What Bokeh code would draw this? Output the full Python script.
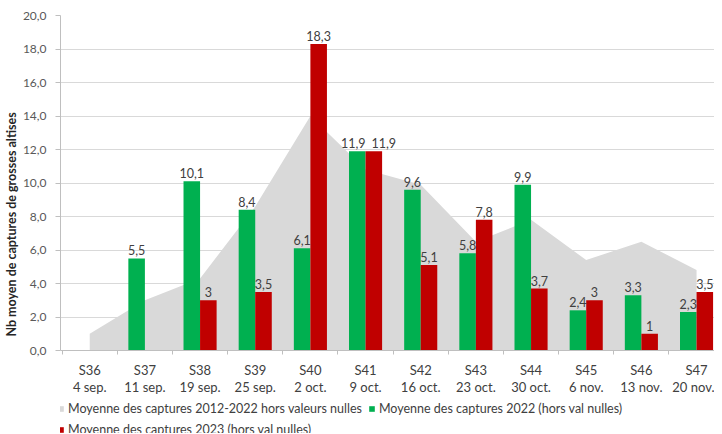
import numpy as np
from bokeh.plotting import figure
from bokeh.models import (Range1d, FixedTicker, LinearAxis, Legend, LegendItem,
                          ColumnDataSource, CustomJSTickFormatter, LabelSet)
from bokeh.transform import dodge
from bokeh.core.properties import value
from bokeh.embed import file_html
from bokeh.resources import INLINE

# ---- data ----
weeks = ["S36", "S37", "S38", "S39", "S40", "S41", "S42", "S43", "S44", "S45", "S46", "S47"]
dates = ["4 sep.", "11 sep.", "19 sep.", "25 sep.", "2 oct.", "9 oct.", "16 oct.",
         "23 oct.", "30 oct.", "6 nov.", "13 nov.", "20 nov."]
mean_2012_2022 = [1.0, 3.0, 4.3, 8.6, 14.0, 10.8, 9.9, 6.5, 7.8, 5.4, 6.5, 4.8]
captures_2022 = [None, 5.5, 10.1, 8.4, 6.1, 11.9, 9.6, 5.8, 9.9, 2.4, 3.3, 2.3]
captures_2023 = [None, None, 3, 3.5, 18.3, 11.9, 5.1, 7.8, 3.7, 3, 1, 3.5]
y_ticks = [0, 2, 4, 6, 8, 10, 12, 14, 16, 18, 20]
legend_labels = ["Moyenne des captures 2012-2022 hors valeurs nulles",
                 "Moyenne des captures 2022 (hors val nulles)",
                 "Moyenne des captures 2023 (hors val nulles)"]

# label nudges (screen px) for the two overlapping "11,9" data labels
nudge_2022 = {"S41": -4}
nudge_2023 = {"S41": 10}

FONT = "Lato"
GREY = "#D9D9D9"
GREEN = "#00B050"
RED = "#C00000"
TXT = "#404040"

n = len(weeks)
centers = [i + 0.5 for i in range(n)]
bounds = [float(i) for i in range(n + 1)]


def fmt(v):
    return ("%g" % v).replace(".", ",")


def series_source(vals, nudge):
    xs, ys, ls, dx = [], [], [], []
    for w, c, v in zip(weeks, centers, vals):
        if v is None:
            continue
        xs.append(c)
        ys.append(v)
        ls.append(fmt(v))
        dx.append(nudge.get(w, 0))
    return ColumnDataSource(dict(x=xs, y=ys, label=ls, dx=dx))


H = 433
TOP = 15
AXIS_Y = 350          # canvas row of y = 0
band_px = 55.67
frame_w = 660
x0 = -0.03
px_per_unit = (AXIS_Y - TOP) / 20.0
y_start = -(H - AXIS_Y) / px_per_unit

p = figure(width=714, height=H, output_backend="svg", toolbar_location=None,
           x_range=Range1d(x0, x0 + frame_w / band_px), y_range=Range1d(y_start, 20),
           min_border_left=54, min_border_right=0, min_border_top=TOP, min_border_bottom=0)
p.outline_line_color = None
p.background_fill_color = "white"
p.border_fill_color = "white"

# area
area = p.varea(x=centers, y1=[0] * n, y2=mean_2012_2022, fill_color=GREY)

# bars
s22 = series_source(captures_2022, nudge_2022)
s23 = series_source(captures_2023, nudge_2023)
bw = 0.3
b22 = p.vbar(x=dodge("x", -bw / 2), top="y", width=bw, source=s22,
             fill_color=GREEN, line_color=None)
b23 = p.vbar(x=dodge("x", bw / 2), top="y", width=bw, source=s23,
             fill_color=RED, line_color=None)

for src, off in ((s22, -bw / 2), (s23, bw / 2)):
    p.add_layout(LabelSet(x=dodge("x", off), y="y", text="label", source=src,
                          x_offset="dx", text_align="center", text_baseline="bottom",
                          y_offset=3, text_font=value(FONT), text_font_size="12.5px",
                          text_color=TXT))

# y axis
ya = p.yaxis[0]
ya.ticker = FixedTicker(ticks=y_ticks)
ya.bounds = (0, 20)
ya.formatter = CustomJSTickFormatter(code="return tick.toFixed(1).replace('.', ',');")
ya.axis_line_color = "#BFBFBF"
ya.major_tick_line_color = "#BFBFBF"
ya.major_tick_out = 5
ya.major_tick_in = 0
ya.minor_tick_line_color = None
ya.minor_tick_out = 0
ya.major_label_standoff = 9
ya.major_label_text_font = FONT
ya.major_label_text_font_size = "12px"
ya.major_label_text_color = "#595959"
ya.axis_label = "Nb moyen de captures de grosses altises"
ya.axis_label_text_font = FONT
ya.axis_label_text_font_style = "bold"
ya.axis_label_text_font_size = "12.5px"
ya.axis_label_text_color = "#262626"
ya.axis_label_standoff = 1

p.ygrid.ticker = FixedTicker(ticks=y_ticks)
p.ygrid.grid_line_color = GREY
p.xgrid.visible = False

# x axes (both pinned at y = 0): weeks, then dates underneath
xa = p.xaxis[0]
xa.fixed_location = 0
xa.ticker = FixedTicker(ticks=centers, minor_ticks=bounds)
xa.formatter = CustomJSTickFormatter(args=dict(labels=weeks),
                                     code="return labels[Math.floor(tick)] || '';")
xa.axis_line_color = "#BFBFBF"
xa.major_tick_line_color = None
xa.major_tick_out = 0
xa.major_tick_in = 0
xa.minor_tick_line_color = "#BFBFBF"
xa.minor_tick_out = 4
xa.minor_tick_in = 0
xa.major_label_standoff = 7
xa.major_label_text_font = FONT
xa.major_label_text_font_size = "13px"
xa.major_label_text_color = "#404040"

xb = LinearAxis(fixed_location=0, ticker=FixedTicker(ticks=centers),
                formatter=CustomJSTickFormatter(args=dict(labels=dates),
                                                code="return labels[Math.floor(tick)] || '';"))
xb.axis_line_color = None
xb.major_tick_line_color = None
xb.minor_tick_line_color = None
xb.major_tick_out = 0
xb.major_tick_in = 0
xb.minor_tick_out = 0
xb.major_label_standoff = 28
xb.major_label_text_font = FONT
xb.major_label_text_font_size = "13px"
xb.major_label_text_color = "#404040"
p.add_layout(xb, "below")

legend = Legend(items=[LegendItem(label=legend_labels[0], renderers=[area]),
                       LegendItem(label=legend_labels[1], renderers=[b22]),
                       LegendItem(label=legend_labels[2], renderers=[b23])],
                location=(-3, -4), orientation="horizontal", ncols=2,
                padding=0, margin=0, spacing=6, label_standoff=4,
                glyph_width=7, glyph_height=7, label_height=14,
                label_text_font=FONT, label_text_font_size="12.5px",
                label_text_color="#404040",
                border_line_color=None, background_fill_alpha=0)
p.add_layout(legend, "center")

open("out.html", "w").write(file_html(p, INLINE))
